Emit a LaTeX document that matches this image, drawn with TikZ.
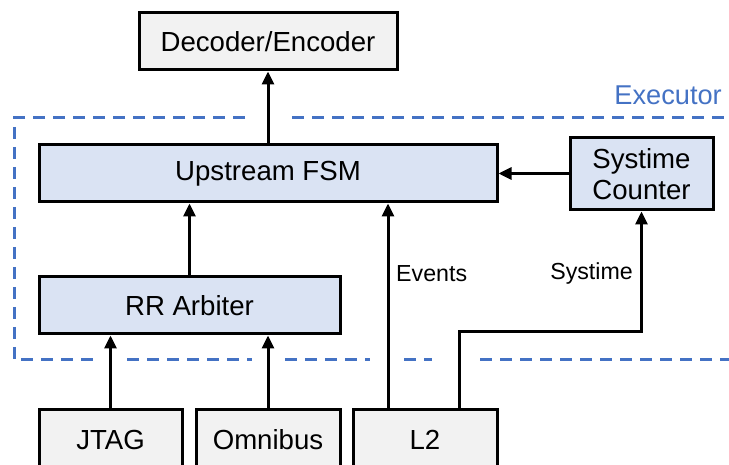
\documentclass[tikz,border=0pt]{standalone}
\usepackage{fontspec}
\setmainfont{Liberation Sans}
\usetikzlibrary{arrows.meta}
\definecolor{boxgray}{HTML}{F2F2F2}
\definecolor{boxblue}{HTML}{DAE3F3}
\definecolor{execblue}{HTML}{4472C4}
\tikzset{
  blk/.style={draw=black, line width=3pt, rectangle, inner sep=0pt,
    align=center, font=\fontsize{27.6}{31}\selectfont},
  extblk/.style={blk, fill=boxgray},
  intblk/.style={blk, fill=boxblue},
  conn/.style={line width=3pt, -{Triangle[length=13pt,width=12pt]}},
  boundary/.style={draw=execblue, line width=3pt, dash pattern=on 12pt off 8pt},
  sig/.style={font=\fontsize{23.2}{26}\selectfont, inner sep=0pt}
}
\begin{document}
\begin{tikzpicture}[x=1pt, y=-1pt]
\useasboundingbox (0,0) rectangle (729,465);
\clip (0,0) rectangle (729,465);

% executor boundary (open on the right, broken where wires cross)
\draw[boundary] (245,118) -- (14,118) -- (14,360) -- (93,360);
\draw[boundary] (292,118) -- (729,118);
\draw[boundary] (127,360) -- (252,360);
\draw[boundary] (285,360) -- (370,360);
\draw[boundary] (404,360) -- (432,360);
\draw[boundary] (480,360) -- (729,360);
\node[anchor=east, text=execblue, font=\fontsize{27.2}{30}\selectfont, inner sep=0pt]
  (exec) at (722,95) {Executor};

% blocks
\node[extblk, minimum width=258pt, minimum height=57pt] (dec) at (268,41.5) {Decoder/Encoder};
\node[intblk, minimum width=458pt, minimum height=57pt] (ufsm) at (268,173.5) {Upstream FSM};
\node[intblk, minimum width=143pt, minimum height=72pt] (stc) at (641.5,174)
  {Systime\\Counter};
\node[intblk, minimum width=301pt, minimum height=57pt] (rr) at (189.5,305.5) {RR Arbiter};
\node[extblk, minimum width=143pt, minimum height=62pt] (jtag) at (110.5,440) {JTAG};
\node[extblk, minimum width=144pt, minimum height=62pt] (omni) at (268,440) {Omnibus};
\node[extblk, minimum width=144pt, minimum height=62pt] (l2) at (425,440) {L2};

% connections
\draw[conn] (ufsm.north) -- (dec.south);
\draw[conn] (stc.west |- ufsm.east) -- (ufsm.east);
\draw[conn] (rr.north) -- (ufsm.south -| rr.north);
\draw[conn] (jtag.north) -- (jtag.north |- rr.south);
\draw[conn] (omni.north) -- (omni.north |- rr.south);

\coordinate (evsrc) at ([xshift=-37pt]l2.north);
\coordinate (stsrc) at ([xshift=34pt]l2.north);
\coordinate (stbend) at (stsrc |- 0,332);
\draw[conn] (evsrc) -- (evsrc |- ufsm.south);
\draw[conn] (stsrc) -- (stbend) -- (stbend -| stc.south) -- (stc.south);

\node[sig, anchor=west] (evlbl) at (396,274) {Events};
\node[sig, anchor=east] (stlbl) at (633,274) {Systime};
\end{tikzpicture}
\end{document}
